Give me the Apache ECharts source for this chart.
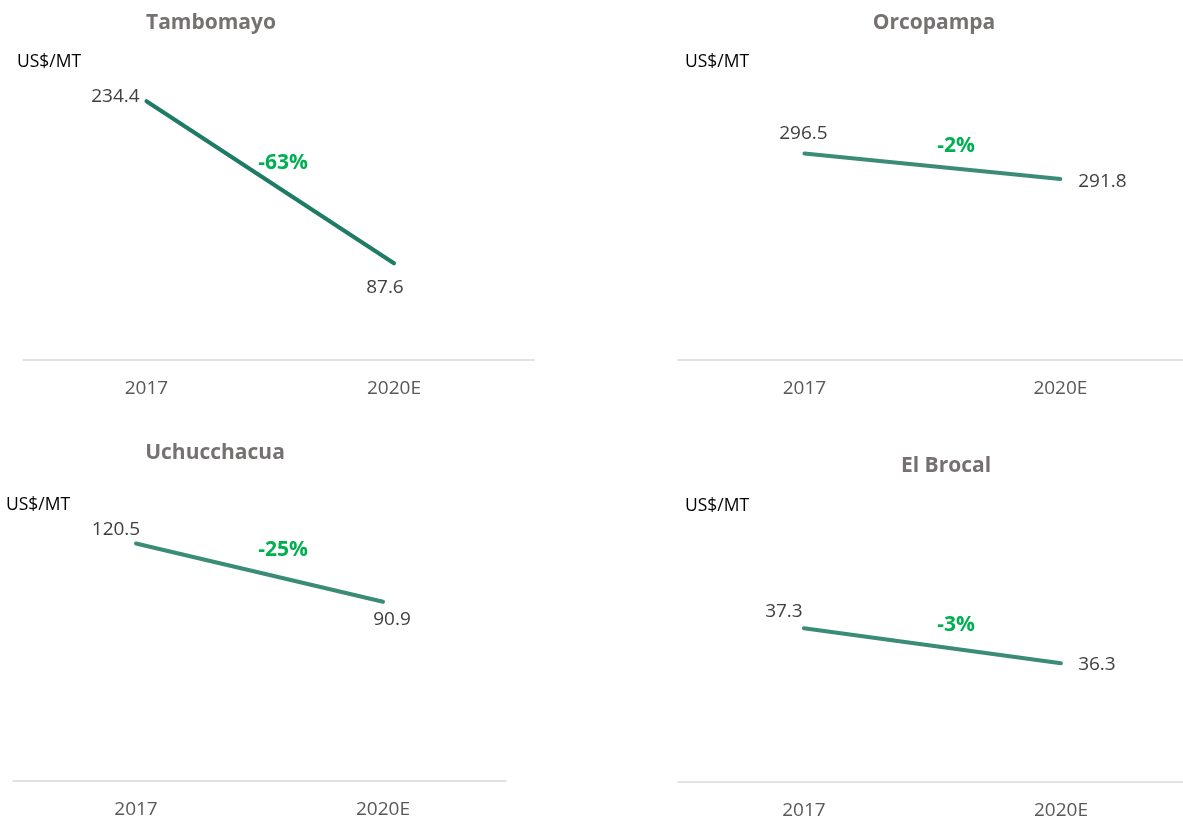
<!DOCTYPE html>
<html>
<head>
<meta charset="utf-8">
<script src="https://cdn.jsdelivr.net/npm/echarts@6/dist/echarts.min.js"></script>
<style>
  html, body { margin: 0; padding: 0; background: #fff; }
  #js-cost { width: 1183px; height: 823px; }
</style>
</head>
<body>
<div id="js-cost"></div>
<script>
// data
var years = ['2017', '2020E'];
var mines = ['Tambomayo', 'Orcopampa', 'Uchucchacua', 'El Brocal'];
var tambomayo = [234.4, 87.6];
var orcopampa = [296.5, 291.8];
var uchucchacua = [120.5, 90.9];
var elBrocal = [37.3, 36.3];
var unit = 'US$/MT';

/*layout per panel*/
var panels = [
    { values: tambomayo, grid: { left: 23, top: 84, width: 511, height: 276 }, x: [-0.499, 1.566], y: [0, 250],
      color: '#1E7B66', title: [211, 23], unit: [17, 62], pct: [283, 163], offsets: [[-31, -5], [-9, 24]] },
    { values: orcopampa, grid: { left: 678, top: 84, width: 505, height: 276 }, x: [-0.494, 1.479], y: [258.7, 309.2],
      color: '#3A8C78', title: [934, 23], unit: [685, 62], pct: [956, 146], offsets: [[-1, -20], [42, 2]] },
    { values: uchucchacua, grid: { left: 13, top: 505, width: 493, height: 276 }, x: [-0.498, 1.498], y: [0, 140],
      color: '#3A8C78', title: [215, 453], unit: [6, 505], pct: [283, 550], offsets: [[-20, -14], [9, 18]] },
    { values: elBrocal, grid: { left: 678, top: 506, width: 505, height: 276 }, x: [-0.49, 1.475], y: [32.9, 40.8],
      color: '#3A8C78', title: [946, 466], unit: [685, 506], pct: [956, 625], offsets: [[-20, -17], [36, 1]] }
];

var font = '"Open Sans", "Noto Sans", sans-serif';
var grids = [], xAxes = [], yAxes = [], series = [], texts = [];

panels.forEach(function (p, i) {
    grids.push(p.grid);
    xAxes.push({
        type: 'value',
        gridIndex: i,
        min: p.x[0],
        max: p.x[1],
        axisLine: { show: true, lineStyle: { color: '#D9D9D9', width: 1.5 } },
        axisTick: { show: false },
        splitLine: { show: false },
        axisLabel: {
            customValues: [0, 1],
            formatter: function (v) { return years[Math.round(v)]; },
            color: '#595959',
            fontFamily: font,
            fontSize: 19,
            margin: 19
        }
    });
    yAxes.push({
        type: 'value',
        gridIndex: i,
        min: p.y[0],
        max: p.y[1],
        show: false
    });
    series.push({
        name: mines[i],
        type: 'line',
        xAxisIndex: i,
        yAxisIndex: i,
        symbol: 'circle',
        symbolSize: 1,
        lineStyle: { color: p.color, width: 4, cap: 'round' },
        itemStyle: { color: p.color },
        data: p.values.map(function (v, k) {
            return {
                value: [k, v],
                label: { offset: p.offsets[k] }
            };
        }),
        label: {
            show: true,
            position: 'inside',
            color: '#404040',
            fontFamily: font,
            fontSize: 19,
            formatter: function (d) { return d.value[1].toFixed(1); }
        },
        animation: false
    });

    // title, unit and change
    var change = Math.round((p.values[1] / p.values[0] - 1) * 100);
    texts.push({
        type: 'text', x: p.title[0], y: p.title[1],
        style: { text: mines[i], font: 'bold 21px ' + font, fill: '#767171',
                 align: 'center', verticalAlign: 'middle', textAlign: 'center', textVerticalAlign: 'middle' }
    });
    texts.push({
        type: 'text', x: p.unit[0], y: p.unit[1],
        style: { text: unit, font: '17.5px ' + font, fill: '#000',
                 align: 'left', verticalAlign: 'middle', textAlign: 'left', textVerticalAlign: 'middle' }
    });
    texts.push({
        type: 'text', x: p.pct[0], y: p.pct[1],
        style: { text: change + '%', font: 'bold 21px ' + font, fill: '#00B050',
                 align: 'center', verticalAlign: 'middle', textAlign: 'center', textVerticalAlign: 'middle' }
    });
});

var costChart = echarts.init(document.getElementById('js-cost'));
costChart.setOption({
    backgroundColor: '#fff',
    grid: grids,
    xAxis: xAxes,
    yAxis: yAxes,
    series: series,
    graphic: texts
});
</script>
</body>
</html>
